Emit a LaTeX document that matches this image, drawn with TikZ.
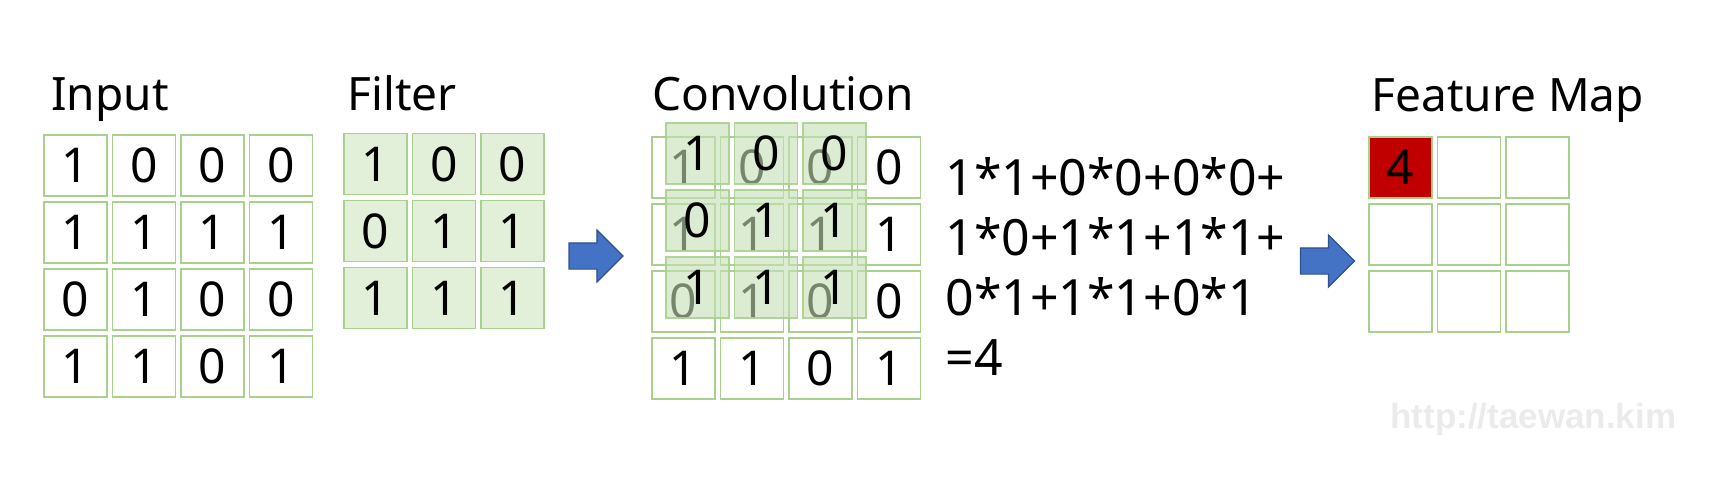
\documentclass[tikz,border=0pt]{standalone}
\usepackage{fontspec}
\setmainfont{Noto Sans}
\newfontfamily\markfont{Liberation Sans}
\usetikzlibrary{matrix,shapes.arrows,positioning}
\definecolor{cellgreen}{HTML}{A9D18E}
\definecolor{filtgreen}{HTML}{E2F0D9}
\definecolor{slidegreen}{HTML}{C5E0B4}
\definecolor{mapred}{HTML}{C00000}
\definecolor{arrblue}{HTML}{4472C4}
\definecolor{arrdark}{HTML}{2F528F}
\definecolor{markgray}{HTML}{EBEBEB}

\begin{document}
\begin{tikzpicture}[
  x=0.5pt, y=-0.5pt,
  cell/.style={draw=cellgreen, line width=0.7pt, rectangle, inner sep=0pt,
               minimum width=31.5pt, minimum height=30.5pt, anchor=center,
               font=\fontsize{24}{24}\selectfont},
  numgrid/.style={matrix of nodes, inner sep=0pt, column sep=2pt,
                  row sep=2.25pt, anchor=north west},
  heading/.style={anchor=base west, inner sep=0pt,
                  font=\fontsize{23}{23}\selectfont},
  sumline/.style={anchor=base west, inner sep=0pt,
                  font=\fontsize{25}{30}\selectfont},
  blockarr/.style={single arrow, draw=arrdark, fill=arrblue, line width=0.6pt,
                   inner sep=6.25pt, minimum height=27pt, minimum width=26pt,
                   single arrow head extend=6.5pt}
]
  \useasboundingbox (0,0) rectangle (1720,477);

  %% Headings
  \node[heading] (hinp)  at (51,110)   {Input};
  \node[heading] (hflt)  at (347,110)  {Filter};
  \node[heading] (hconv) at (652,110)  {Convolution};
  \node[heading] (hmap)  at (1371,111) {Feature Map};

  %% Input
  \matrix[numgrid, nodes={cell}] (inp) at (43,134) {
    1 & 0 & 0 & 0 \\
    1 & 1 & 1 & 1 \\
    0 & 1 & 0 & 0 \\
    1 & 1 & 0 & 1 \\
  };

  %% Filter
  \matrix[numgrid, nodes={cell, fill=filtgreen}] (flt) at (343,132.5) {
    1 & 0 & 0 \\
    0 & 1 & 1 \\
    1 & 1 & 1 \\
  };

  \node[blockarr] (arrA) at (589.5,256) {};

  %% Convolution: input with the filter laid over it
  \matrix[numgrid, nodes={cell}] (conv) at (651,136) {
    1 & 0 & 0 & 0 \\
    1 & 1 & 1 & 1 \\
    0 & 1 & 0 & 0 \\
    1 & 1 & 0 & 1 \\
  };
  \matrix[numgrid, nodes={cell, draw opacity=0.9, fill=slidegreen,
          fill opacity=0.6, text opacity=1}] (slide) at (665,122) {
    1 & 0 & 0 \\
    0 & 1 & 1 \\
    1 & 1 & 1 \\
  };

  %% Sum of products
  \node[sumline] (eq1) at (945,195) {1*1+0*0+0*0+};
  \node[sumline] (eq2) at (945,255) {1*0+1*1+1*1+};
  \node[sumline] (eq3) at (945,315) {0*1+1*1+0*1};
  \node[sumline] (eq4) at (945,375) {=4};

  \node[blockarr] (arrB) at (1321,261) {};

  %% Feature map
  \matrix[numgrid, nodes={cell}, nodes in empty cells] (fmap) at (1368,136) {
    |[fill=mapred]| 4 & & \\
    & & \\
    & & \\
  };

  \node[anchor=base west, inner sep=0pt, text=markgray,
        font=\markfont\bfseries\fontsize{17.5}{17.5}\selectfont]
    (mark) at (1390,428) {http://taewan.kim};
\end{tikzpicture}
\end{document}
